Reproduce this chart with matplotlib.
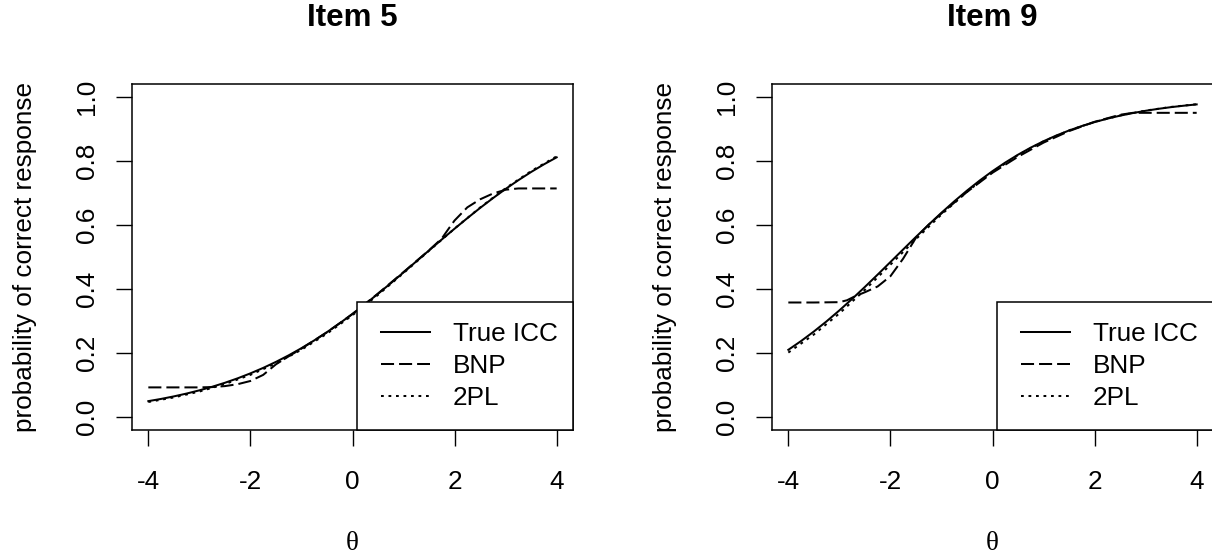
import matplotlib
matplotlib.use("Agg")
import matplotlib.pyplot as plt
from matplotlib.patches import Rectangle
from matplotlib.lines import Line2D

plt.rcParams['font.family'] = ['Liberation Sans', 'DejaVu Sans']
plt.rcParams['lines.scale_dashes'] = False

# ---------------- data ----------------
theta_fine = [-4.0, -3.75, -3.5, -3.25, -3.0, -2.75, -2.5, -2.25, -2.0, -1.75, -1.5,
              -1.25, -1.0, -0.75, -0.5, -0.25, 0.0, 0.25, 0.5, 0.75, 1.0, 1.25, 1.5,
              1.75, 2.0, 2.25, 2.5, 2.75, 3.0, 3.25, 3.5, 3.75, 4.0]
theta_half = [-4.0, -3.5, -3.0, -2.5, -2.0, -1.5, -1.0, -0.5, 0.0, 0.5, 1.0, 1.5,
              2.0, 2.5, 3.0, 3.5, 4.0]

# Item 5
item5_true = [0.0501, 0.0570, 0.0649, 0.0738, 0.0838, 0.0949, 0.1074, 0.1213, 0.1368,
              0.1538, 0.1726, 0.1931, 0.2154, 0.2396, 0.2655, 0.2932, 0.3225, 0.3532,
              0.3852, 0.4182, 0.4520, 0.4863, 0.5206, 0.5548, 0.5884, 0.6213, 0.6531,
              0.6835, 0.7125, 0.7398, 0.7654, 0.7892, 0.8111]
item5_2pl = [0.0474, 0.0617, 0.0800, 0.1033, 0.1322, 0.1678, 0.2106, 0.2608, 0.3183,
             0.3818, 0.4498, 0.5196, 0.5887, 0.6544, 0.7147, 0.7682, 0.8143]
item5_bnp_theta = [-4.0, -3.5, -3.0, -2.75, -2.5, -2.25, -2.0, -1.75, -1.5, -1.25, -1.0,
                   -0.5, 0.0, 0.5, 1.0, 1.5, 1.75, 1.9, 2.0, 2.25, 2.5, 2.75, 3.0, 3.25,
                   3.5, 4.0]
item5_bnp = [0.093, 0.093, 0.093, 0.094, 0.097, 0.103, 0.113, 0.132, 0.165, 0.190, 0.214,
             0.265, 0.322, 0.386, 0.453, 0.521, 0.558, 0.592, 0.614, 0.655, 0.680, 0.698,
             0.710, 0.714, 0.714, 0.714]

# Item 9
item9_true = [0.2103, 0.2377, 0.2674, 0.2993, 0.3333, 0.3692, 0.4066, 0.4451, 0.4843,
              0.5236, 0.5627, 0.6010, 0.6381, 0.6736, 0.7072, 0.7388, 0.7680, 0.7948,
              0.8193, 0.8415, 0.8614, 0.8792, 0.8949, 0.9088, 0.9211, 0.9318, 0.9412,
              0.9493, 0.9564, 0.9625, 0.9678, 0.9723, 0.9763]
item9_2pl = [0.2017, 0.2581, 0.3239, 0.3975, 0.4760, 0.5558, 0.6327, 0.7035, 0.7657,
             0.8182, 0.8610, 0.8951, 0.9216, 0.9418, 0.9570, 0.9684, 0.9769]
item9_bnp_theta = [-4.0, -3.5, -3.0, -2.85, -2.7, -2.5, -2.25, -2.0, -1.75, -1.5, -1.25,
                   -1.0, -0.5, 0.0, 0.5, 1.0, 1.5, 2.0, 2.5, 2.75, 3.0, 4.0]
item9_bnp = [0.358, 0.358, 0.359, 0.365, 0.377, 0.390, 0.408, 0.440, 0.495, 0.560, 0.601,
             0.636, 0.703, 0.763, 0.813, 0.857, 0.893, 0.922, 0.944, 0.950, 0.950, 0.950]

titles = ["Item 5", "Item 9"]
legend_labels = ["True ICC", "BNP", "2PL"]
xticks = [-4, -2, 0, 2, 4]
yticks = [0.0, 0.2, 0.4, 0.6, 0.8, 1.0]
ytick_labels = ["0.0", "0.2", "0.4", "0.6", "0.8", "1.0"]
ylabel = "probability of correct response"
xlabel = "θ"

panels = [
    (item5_true, item5_bnp_theta, item5_bnp, item5_2pl),
    (item9_true, item9_bnp_theta, item9_bnp, item9_2pl),
]

# ---------------- figure ----------------
W, H = 1212, 558
fig = plt.figure(figsize=(W / 100, H / 100), dpi=100)

FS = 18.8
LW = 1.45
DASH = (0, (9.4, 3.6))
DOT = (0, (2.0, 3.4))

lefts_px = [132, 772]
for k, (true_v, bnp_t, bnp_v, pl_v) in enumerate(panels):
    ax = fig.add_axes([lefts_px[k] / W, (H - 430) / H, 441 / W, 346 / H])
    ax.plot(theta_fine, true_v, color='black', lw=LW, ls='-', zorder=2)
    ax.plot(bnp_t, bnp_v, color='black', lw=LW, ls=DASH, zorder=2)
    ax.plot(theta_half, pl_v, color='black', lw=LW, ls=DOT, zorder=2)
    ax.set_xlim(-4.32, 4.32)
    ax.set_ylim(-0.04, 1.04)
    ax.set_xticks(xticks)
    ax.set_xticklabels([str(t) for t in xticks])
    ax.set_yticks(yticks)
    ax.set_yticklabels(ytick_labels, rotation=90, va='center')
    ax.tick_params(axis='both', direction='out', length=11.5, width=1.0,
                   labelsize=FS, color='black')
    ax.tick_params(axis='x', pad=17)
    ax.tick_params(axis='y', pad=12)
    for s in ax.spines.values():
        s.set_linewidth(1.1)
    ax.set_ylabel(ylabel, fontsize=FS)
    ax.yaxis.set_label_coords((37 - 132) / 441, 0.5)
    ax.text(0.5, (430 - 543) / 346, xlabel, transform=ax.transAxes, ha='center',
            va='center', fontsize=19.5, family=['Liberation Serif', 'DejaVu Serif'])
    ax.text(0.5, (430 - 18) / 346, titles[k], transform=ax.transAxes, ha='center',
            va='center', fontsize=22.5, fontweight='bold')

    # legend box (opaque, bottom-right)
    bx0 = (357.3 - 132) / 441
    by1 = (430 - 302.3) / 346
    ax.add_patch(Rectangle((bx0, 0), 1 - bx0, by1, transform=ax.transAxes,
                           facecolor='white', edgecolor='black', lw=1.1, zorder=3,
                           clip_on=False))
    handles = [Line2D([], [], color='black', lw=LW, ls='-'),
               Line2D([], [], color='black', lw=LW, ls=DASH),
               Line2D([], [], color='black', lw=LW, ls=DOT)]
    leg = ax.legend(handles, legend_labels, loc='center left',
                    bbox_to_anchor=((381 - 132) / 441, (430 - 366.2) / 346),
                    frameon=False, fontsize=FS, borderpad=0, borderaxespad=0,
                    handlelength=49 / 26.1, handletextpad=23 / 26.1,
                    labelspacing=0.31)
    leg.set_zorder(4)

fig.savefig("out.png", dpi=100)
